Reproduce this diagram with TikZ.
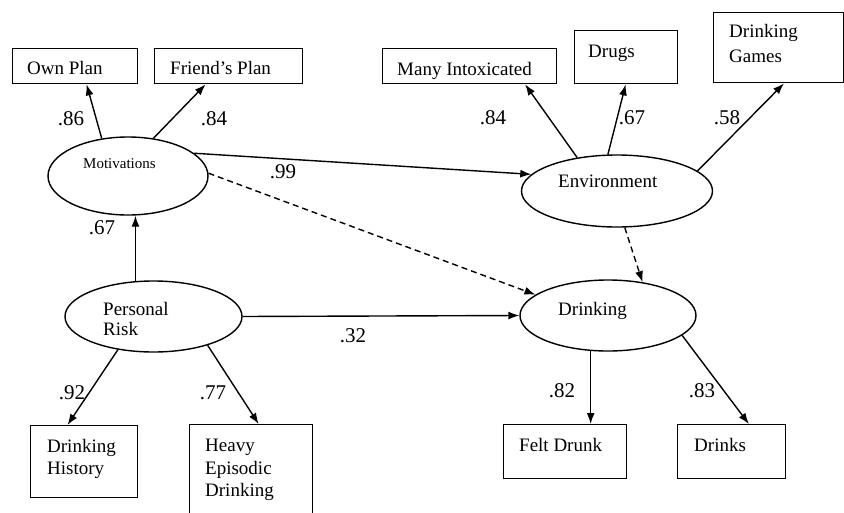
\documentclass[tikz,border=0pt]{standalone}
\usepackage{fontspec}
\setmainfont{Liberation Serif}
\usetikzlibrary{shapes.geometric,arrows.meta,calc}
\begin{document}
\begin{tikzpicture}[x=1pt,y=-1pt,
  ell/.style={draw, ellipse, line width=1.4pt, inner sep=0pt},
  box/.style={draw, rectangle, line width=1.4pt, inner sep=0pt, anchor=north west},
  txt/.style={anchor=north west, inner sep=0pt, align=left, font=\fontsize{19}{22}\selectfont},
  lab/.style={inner sep=0pt, font=\fontsize{21}{24}\selectfont},
  arr/.style={-{Latex[length=11pt,width=8pt]}, line width=1.4pt},
  dsh/.style={arr, dash pattern=on 6pt off 4pt}]
\fill[white] (0,0) rectangle (844,512);
\useasboundingbox (0,0) rectangle (844,512);
% ellipses
\node[ell, minimum width=160pt, minimum height=78pt] (mot) at (128,176) {};
\node[ell, minimum width=191pt, minimum height=72pt] (env) at (617,191) {};
\node[ell, minimum width=176pt, minimum height=71pt] (drk) at (608,315.5) {};
\node[ell, minimum width=177pt, minimum height=71pt] (pr) at (153.5,316.5) {};
\node[txt, font=\fontsize{15}{18}\selectfont] (motT) at (83,158) {Motivations};
\node[txt] (envT) at (558,175) {Environment};
\node[txt] (drkT) at (558,302) {Drinking};
\node[txt, font=\fontsize{19}{20}\selectfont] (prT) at (103,302) {Personal\\Risk};
% boxes
\node[box, minimum width=125pt, minimum height=35pt] (own) at (12,48) {};
\node[box, minimum width=148pt, minimum height=35pt] (fr) at (154,48) {};
\node[box, minimum width=174pt, minimum height=35pt] (many) at (382,48) {};
\node[box, minimum width=103pt, minimum height=53pt] (drugs) at (574,30) {};
\node[box, minimum width=130pt, minimum height=70pt] (games) at (713,12) {};
\node[box, minimum width=107pt, minimum height=72pt] (dh) at (30,425) {};
\node[box, minimum width=123pt, minimum height=92pt] (hed) at (189,424) {};
\node[box, minimum width=123pt, minimum height=54pt] (felt) at (503,424) {};
\node[box, minimum width=108pt, minimum height=54pt] (drinks) at (677,424) {};
\node[txt] (ownT) at (27,61) {Own Plan};
\node[txt] (frT) at (170,61) {Friend's Plan};
\node[txt] (manyT) at (397,62) {Many Intoxicated};
\node[txt] (drugsT) at (588,45) {Drugs};
\node[txt, font=\fontsize{19}{25}\selectfont] (gamesT) at (729,24) {Drinking\\Games};
\node[txt] (dhT) at (47,439) {Drinking\\History};
\node[txt, font=\fontsize{19}{22.5}\selectfont] (hedT) at (205,439) {Heavy\\Episodic\\Drinking};
\node[txt] (feltT) at (519,438) {Felt Drunk};
\node[txt] (drinksT) at (694,438) {Drinks};
% connectors
\draw[arr] (mot.125) -- ($(own.south west)!0.59!(own.south east)$);
\draw[arr] (mot.56) -- ($(fr.south west)!0.345!(fr.south east)$);
\draw[arr] (mot.19) -- (env.169);
\draw[dsh] (mot.2) -- (drk.164);
\draw[arr] (env.140) -- ($(many.south west)!0.816!(many.south east)$);
\draw[arr] (env.104) -- ($(drugs.south west)!0.495!(drugs.south east)$);
\draw[arr] (env.14) -- ($(games.south west)!0.54!(games.south east)$);
\draw[dsh] (env.282) -- (drk.44);
\draw[arr] (pr.117) -- (pr.117 |- mot.south);
\draw[arr] (pr.east) -- (drk.west);
\draw[arr] (pr.223) -- ($(dh.north west)!0.346!(dh.north east)$);
\draw[arr] (pr.332) -- ($(hed.north west)!0.56!(hed.north east)$);
\draw[arr] (drk.244) -- (drk.244 |- felt.north);
\draw[arr] (drk.345) -- ($(drinks.north west)!0.657!(drinks.north east)$);
% labels
\node[lab] (l1) at (71,119) {.86};
\node[lab] (l2) at (214,119) {.84};
\node[lab] (l3) at (283,172) {.99};
\node[lab] (l4) at (493,118) {.84};
\node[lab] (l5) at (632,118) {.67};
\node[lab] (l6) at (727,118) {.58};
\node[lab] (l7) at (102,228) {.67};
\node[lab] (l8) at (353,336) {.32};
\node[lab] (l9) at (72,393) {.92};
\node[lab] (l10) at (213,393) {.77};
\node[lab] (l11) at (562,391) {.82};
\node[lab] (l12) at (702,391) {.83};
\end{tikzpicture}
\end{document}
